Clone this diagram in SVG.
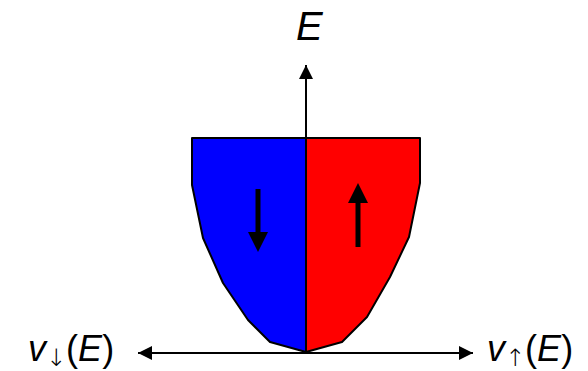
<svg xmlns="http://www.w3.org/2000/svg" width="588" height="371" viewBox="0 0 588 371">
<style>
.lbl{font-family:"Liberation Sans",Arial,sans-serif;fill:#000}
.it{font-style:italic}
.arr{font-family:"DejaVu Sans",sans-serif;font-weight:200;font-size:24px}
.ax{stroke:#000;stroke-width:2;fill:none}
.out{stroke:#000;stroke-width:2;stroke-linejoin:round}
</style>
<defs>
<marker id="ah" viewBox="0 0 10 10" refX="10" refY="5" markerWidth="7" markerHeight="7" orient="auto" markerUnits="strokeWidth">
<path d="M0,0 L10,5 L0,10 Z" fill="#000"/>
</marker>
</defs>
<g id="band-down">
<path class="out" fill="#0000FF" d="M306,138 L192,138 L192,185 L203,238 L223,283 L248,320 L270,342 L306,352 Z"/>
<path fill="#000" d="M255.5,189 h5 v43 h7.5 L258,252 L248,232 h7.5 Z"/>
</g>
<g id="band-up">
<path class="out" fill="#FF0000" d="M306,138 L420,138 L420,183 L409,237 L390,277 L367,317 L342,342 L306,352 Z"/>
<path fill="#000" d="M355.5,247 h5 v-44 h7.5 L358,183 L348,203 h7.5 Z"/>
</g>
<g id="connectors">
<line class="ax" x1="306" y1="352" x2="306" y2="65" marker-end="url(#ah)"/>
<line class="ax" x1="306" y1="353" x2="138" y2="353" marker-end="url(#ah)"/>
<line class="ax" x1="306" y1="353" x2="473" y2="353" marker-end="url(#ah)"/>
</g>
<g id="label-E">
<text class="lbl it" x="296" y="40" font-size="40">E</text>
</g>
<g id="label-vdown">
<text class="lbl" x="28" y="361" font-size="36"><tspan class="it">v</tspan><tspan class="arr" dy="5">↓</tspan><tspan dy="-5">(</tspan><tspan class="it">E</tspan><tspan>)</tspan></text>
</g>
<g id="label-vup">
<text class="lbl" x="487" y="361" font-size="36"><tspan class="it">v</tspan><tspan class="arr" dy="5">↑</tspan><tspan dy="-5">(</tspan><tspan class="it">E</tspan><tspan>)</tspan></text>
</g>
</svg>
